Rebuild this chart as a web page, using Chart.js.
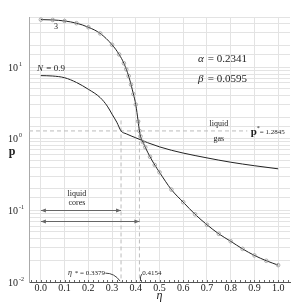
<!DOCTYPE html>
<html>
<head>
<meta charset="utf-8">
<script src="https://cdn.jsdelivr.net/npm/chart.js@4/dist/chart.umd.min.js"></script>
<style>
body{margin:0;background:#fff;}
#wrap{width:299px;height:302px;position:relative;}
</style>
</head>
<body>
<div id="wrap"><canvas id="myChart"></canvas></div>
<script>
// curve "3" (with markers)
var etaTop = [0, 0.05, 0.10, 0.15, 0.20, 0.25, 0.30, 0.33, 0.35, 0.36, 0.37, 0.38, 0.39, 0.40, 0.41, 0.4154,
  0.42, 0.43, 0.44, 0.46, 0.48, 0.50, 0.55, 0.60, 0.65, 0.70, 0.75, 0.80, 0.85, 0.90, 0.95, 1.00];
var pTop = [46, 45.5, 44, 41, 36, 29.5, 20.5, 15, 11.3, 9.3, 7.5, 5.7, 4.2, 3.0, 1.75, 1.2845,
  1.08, 0.9, 0.76, 0.56, 0.43, 0.34, 0.195, 0.13, 0.088, 0.063, 0.047, 0.037, 0.029, 0.0235, 0.0198, 0.0172];

// curve N = 0.9
var etaN = [0, 0.05, 0.10, 0.15, 0.20, 0.25, 0.28, 0.30, 0.32, 0.3379, 0.36, 0.40, 0.45, 0.50, 0.55, 0.60, 0.70, 0.80, 0.90, 1.00];
var pN = [7.6, 7.5, 7.1, 6.1, 4.9, 3.75, 2.85, 2.2, 1.7, 1.2845, 1.17, 1.03, 0.88, 0.77, 0.69, 0.63, 0.54, 0.47, 0.42, 0.38];

var xTicks = [0.0, 0.1, 0.2, 0.3, 0.4, 0.5, 0.6, 0.7, 0.8, 0.9, 1.0];
var yDecades = [10, 1, 0.1, 0.01];
var yExp = ['1', '0', '-1', '-2'];

var pStar = 1.2845;
var etaStar = 0.3379;
var etaCross = 0.4154;

var serif = 'Liberation Serif';

function pts(xs, ys){
  var out = [];
  for (var i = 0; i < xs.length; i++) out.push({x: xs[i], y: ys[i]});
  return out;
}

function arrowHead(ctx, x, y, dir){
  ctx.beginPath();
  ctx.moveTo(x, y);
  ctx.lineTo(x - dir*5, y - 2);
  ctx.lineTo(x - dir*5, y + 2);
  ctx.closePath();
  ctx.fill();
}

var marks = {
  id: 'marks',
  beforeDatasetsDraw: function(chart){
    var ctx = chart.ctx, xs = chart.scales.x, ys = chart.scales.y, a = chart.chartArea;
    ctx.save();
    ctx.strokeStyle = '#bbb';
    ctx.lineWidth = 1;
    ctx.setLineDash([4, 3]);
    // p* line
    ctx.beginPath();
    ctx.moveTo(a.left, ys.getPixelForValue(pStar));
    ctx.lineTo(xs.getPixelForValue(0.87), ys.getPixelForValue(pStar));
    ctx.stroke();
    // verticals
    [etaStar, etaCross].forEach(function(e){
      ctx.beginPath();
      ctx.moveTo(xs.getPixelForValue(e), ys.getPixelForValue(1.8));
      ctx.lineTo(xs.getPixelForValue(e), a.bottom);
      ctx.stroke();
    });
    ctx.restore();
  },
  afterDatasetsDraw: function(chart){
    var ctx = chart.ctx, xs = chart.scales.x, ys = chart.scales.y, a = chart.chartArea;
    function X(v){ return xs.getPixelForValue(v); }
    function Y(v){ return ys.getPixelForValue(v); }
    ctx.save();
    ctx.fillStyle = '#222';
    ctx.textBaseline = 'middle';

    // y tick labels
    yDecades.forEach(function(d, i){
      var y = Y(d);
      ctx.font = '10px "' + serif + '"';
      ctx.textAlign = 'right';
      ctx.fillText('10', 18, y + 1);
      ctx.font = '6px "' + serif + '"';
      ctx.textAlign = 'left';
      ctx.fillText(yExp[i], 19, y - 3);
    });

    // minor ticks along x axis
    ctx.strokeStyle = '#666';
    ctx.lineWidth = 1;
    for (var k = -2; k <= 52; k++) {
      var px = Math.round(X(k * 0.02)) + 0.5;
      ctx.beginPath();
      ctx.moveTo(px, a.bottom);
      ctx.lineTo(px, a.bottom - 2);
      ctx.stroke();
    }

    // axis titles
    ctx.textAlign = 'center';
    ctx.font = 'bold 12px "' + serif + '"';
    ctx.fillText('p', 12, 152);
    ctx.font = 'italic 12px "' + serif + '"';
    ctx.fillText('η', X(0.5), 296);

    // curve labels
    ctx.font = '8px "' + serif + '"';
    ctx.fillText('3', X(0.064), Y(36.7));
    ctx.textAlign = 'left';
    ctx.font = 'italic 9px "' + serif + '"';
    ctx.fillText('N', X(-0.016), Y(9.5));
    ctx.font = '9px "' + serif + '"';
    ctx.fillText(' = 0.9', X(-0.016) + 7, Y(9.5));

    // alpha / beta
    ctx.font = 'italic 11px "' + serif + '"';
    ctx.fillText('α', X(0.662), Y(13.1));
    ctx.fillText('β', X(0.662), Y(6.9));
    ctx.font = '11px "' + serif + '"';
    ctx.fillText(' = 0.2341', X(0.662) + 7, Y(13.1));
    ctx.fillText(' = 0.0595', X(0.662) + 7, Y(6.9));

    // liquid / gas
    ctx.textAlign = 'center';
    ctx.font = '8px "' + serif + '"';
    ctx.fillText('liquid', X(0.75), Y(1.62));
    ctx.fillText('gas', X(0.75), Y(1.0));

    // p* label
    ctx.textAlign = 'left';
    ctx.font = 'bold 11px "' + serif + '"';
    var px0 = X(0.885);
    ctx.fillText('p', px0, Y(pStar) + 1);
    ctx.font = '6px "' + serif + '"';
    ctx.fillText('*', px0 + 6, Y(pStar) - 3);
    ctx.font = '7px "' + serif + '"';
    ctx.fillText('= 1.2845', px0 + 9, Y(pStar) + 1);

    // liquid cores
    ctx.textAlign = 'center';
    ctx.font = '8px "' + serif + '"';
    ctx.fillText('liquid', X(0.152), Y(0.17));
    ctx.fillText('cores', X(0.152), Y(0.128));

    // arrows
    ctx.strokeStyle = '#666';
    ctx.fillStyle = '#666';
    [[etaStar, 0.1], [etaCross, 0.0715]].forEach(function(r){
      var y = Math.round(Y(r[1])) + 0.5;
      ctx.beginPath();
      ctx.moveTo(X(0), y);
      ctx.lineTo(X(r[0]), y);
      ctx.stroke();
      arrowHead(ctx, X(0), y, -1);
      arrowHead(ctx, X(r[0]), y, 1);
    });

    // eta labels at bottom
    ctx.fillStyle = '#222';
    ctx.textAlign = 'right';
    ctx.font = 'italic 8px "' + serif + '"';
    var ey = Y(0.0133);
    ctx.fillText('η', X(0.27) - 33, ey);
    ctx.font = '7px "' + serif + '"';
    ctx.fillText('* = 0.3379', X(0.27), ey);
    ctx.textAlign = 'left';
    ctx.fillText('0.4154', X(0.427), ey);
    ctx.strokeStyle = '#444';
    ctx.beginPath();
    ctx.moveTo(X(0.272), ey);
    ctx.quadraticCurveTo(X(0.31), ey, X(etaStar) - 1, a.bottom - 1);
    ctx.stroke();
    ctx.beginPath();
    ctx.moveTo(X(0.425), ey + 1);
    ctx.quadraticCurveTo(X(0.418), ey + 3, X(etaCross) + 1, a.bottom - 1);
    ctx.stroke();
    ctx.restore();
  }
};

const data = {
  datasets: [{
    label: '3',
    data: pts(etaTop, pTop),
    borderColor: '#222',
    borderWidth: 1,
    pointRadius: 1.8,
    pointBorderColor: '#999',
    pointBackgroundColor: 'rgba(0,0,0,0)',
    pointBorderWidth: 0.8,
    cubicInterpolationMode: 'monotone'
  }, {
    label: 'N = 0.9',
    data: pts(etaN, pN),
    borderColor: '#222',
    borderWidth: 1,
    pointRadius: 0,
    cubicInterpolationMode: 'monotone'
  }]
};

const config = {
  type: 'line',
  data: data,
  options: {
    responsive: true,
    maintainAspectRatio: false,
    animation: false,
    layout: {padding: {top: 17, right: 9, left: 0, bottom: 0}},
    plugins: {legend: {display: false}, tooltip: {enabled: false}},
    scales: {
      x: {
        type: 'linear', min: -0.05, max: 1.05,
        afterFit: function(s){ s.height = 20; },
        afterBuildTicks: function(s){ s.ticks = xTicks.map(function(v){ return {value: v}; }); },
        ticks: {
          padding: 0, color: '#222', maxRotation: 0, autoSkip: false,
          font: {family: serif, size: 10},
          callback: function(v){ return v.toFixed(1); }
        },
        grid: {color: '#e3e3e3', drawTicks: false},
        border: {color: '#555'}
      },
      y: {
        type: 'logarithmic', min: 0.01, max: 50,
        afterFit: function(s){ s.width = 29; },
        ticks: {autoSkip: false, callback: function(){ return ''; }},
        grid: {color: '#e3e3e3', drawTicks: false},
        border: {color: '#aaa'}
      }
    }
  },
  plugins: [marks]
};

const myChart = new Chart(document.getElementById('myChart'), config);
</script>
</body>
</html>
